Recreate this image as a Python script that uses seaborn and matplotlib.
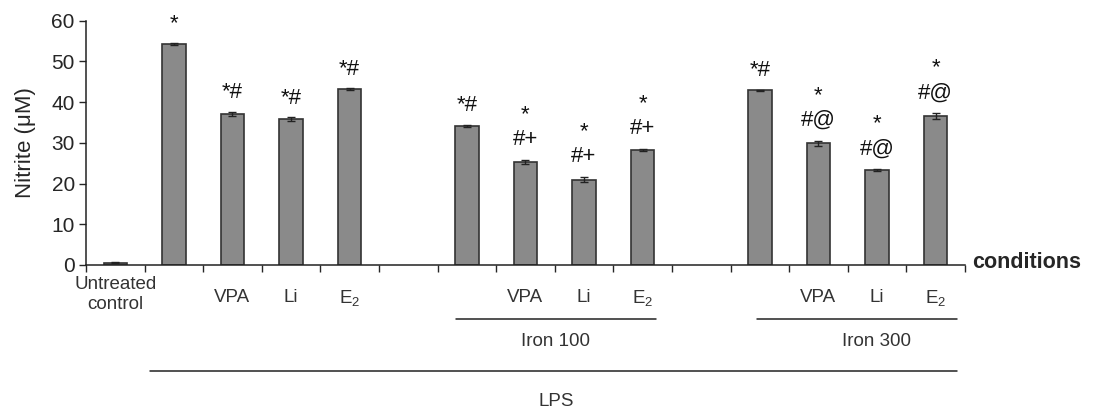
import matplotlib
matplotlib.use("Agg")
import matplotlib.pyplot as plt
import matplotlib.transforms as mtransforms
import seaborn as sns
import pandas as pd
import numpy as np

# ---- data ----
order = ["Untreated control", "LPS", "LPS+VPA", "LPS+Li", "LPS+E2", "gap1",
         "Iron100", "Iron100+VPA", "Iron100+Li", "Iron100+E2", "gap2",
         "Iron300", "Iron300+VPA", "Iron300+Li", "Iron300+E2"]
conditions = ["Untreated control", "LPS", "LPS+VPA", "LPS+Li", "LPS+E2",
              "Iron100", "Iron100+VPA", "Iron100+Li", "Iron100+E2",
              "Iron300", "Iron300+VPA", "Iron300+Li", "Iron300+E2"]
nitrite = [0.6, 54.3, 37.1, 35.8, 43.2, 34.2, 25.3, 21.0, 28.3, 42.9, 29.9, 23.4, 36.6]
errors = [0.1, 0.3, 0.6, 0.5, 0.2, 0.3, 0.6, 0.6, 0.2, 0.2, 0.6, 0.2, 0.7]
marks = ["", "*", "*#", "*#", "*#", "*#", "*\n#+", "*\n#+", "*\n#+",
         "*#", "*\n#@", "*\n#@", "*\n#@"]
tick_labels = ["Untreated\ncontrol", "", "VPA", "Li", r"E$_\mathregular{2}$", "",
               "", "VPA", "Li", r"E$_\mathregular{2}$", "",
               "", "VPA", "Li", r"E$_\mathregular{2}$"]
yticks = [0, 10, 20, 30, 40, 50, 60]

df = pd.DataFrame({"condition": conditions, "nitrite": nitrite})

sns.set_style("ticks")
plt.rcParams["font.family"] = ["Liberation Sans", "DejaVu Sans"]
plt.rcParams["mathtext.fontset"] = "custom"
plt.rcParams["mathtext.rm"] = "Liberation Sans"

fig = plt.figure(figsize=(11.02, 4.16), dpi=100)
ax = fig.add_axes([0.078, 0.363, 0.7976, 0.587])

sns.barplot(data=df, x="condition", y="nitrite", order=order, width=0.4,
            color="#8a8a8a", saturation=1, edgecolor="#333333", linewidth=1.2,
            errorbar=None, ax=ax)

pos = [order.index(c) for c in conditions]
ax.errorbar(pos, nitrite, yerr=errors, fmt="none", ecolor="#222222",
            elinewidth=1, capsize=3, capthick=1)

# annotations
for p, v, e, m in zip(pos, nitrite, errors, marks):
    if not m:
        continue
    lines = m.split("\n")
    if len(lines) == 2:
        ax.annotate(lines[1], (p, v + e), xytext=(0, 7), textcoords="offset points",
                    ha="center", va="bottom", fontsize=16, color="#111111")
        ax.annotate(lines[0], (p, v + e), xytext=(0, 25), textcoords="offset points",
                    ha="center", va="bottom", fontsize=16, color="#111111")
    else:
        ax.annotate(lines[0], (p, v + e), xytext=(0, 6), textcoords="offset points",
                    ha="center", va="bottom", fontsize=16, color="#111111")

ax.set_xlim(-0.5, 14.5)
ax.set_ylim(0, 60)
ax.set_yticks(yticks)
ax.set_yticklabels([str(t) for t in yticks], fontsize=15)
ax.set_ylabel("Nitrite (μM)", fontsize=16, labelpad=11)
ax.set_xlabel("")

ax.set_xticks(range(len(order)))
ax.set_xticklabels(tick_labels, fontsize=13.5, color="#333333")
ax.tick_params(axis="x", which="major", length=0, pad=17)
ax.set_xticks(np.arange(-0.5, 15.0, 1.0), minor=True)
ax.tick_params(axis="x", which="minor", length=5, width=1, direction="out")
ax.tick_params(axis="y", length=5, width=1, direction="out", pad=3)
ax.xaxis.get_major_ticks()[0].set_pad(8)

for s in ["top", "right"]:
    ax.spines[s].set_visible(False)
for s in ["left", "bottom"]:
    ax.spines[s].set_linewidth(1.1)
    ax.spines[s].set_color("#222222")

trans = mtransforms.blended_transform_factory(ax.transData, ax.transAxes)
ax.plot([5.82, 9.23], [-0.221, -0.221], transform=trans, color="#222222", lw=1.1, clip_on=False)
ax.plot([10.95, 14.36], [-0.221, -0.221], transform=trans, color="#222222", lw=1.1, clip_on=False)
ax.plot([0.59, 14.36], [-0.434, -0.434], transform=trans, color="#222222", lw=1.1, clip_on=False)
ax.text(7.52, -0.315, "Iron 100", transform=trans, ha="center", va="center", fontsize=13.5, color="#333333")
ax.text(12.99, -0.315, "Iron 300", transform=trans, ha="center", va="center", fontsize=13.5, color="#333333")
ax.text(7.52, -0.561, "LPS", transform=trans, ha="center", va="center", fontsize=13.5, color="#333333")
ax.text(1.008, 0.012, "conditions", transform=ax.transAxes, ha="left", va="center",
        fontsize=15.5, fontweight="bold")

fig.savefig("out.png", dpi=100)
